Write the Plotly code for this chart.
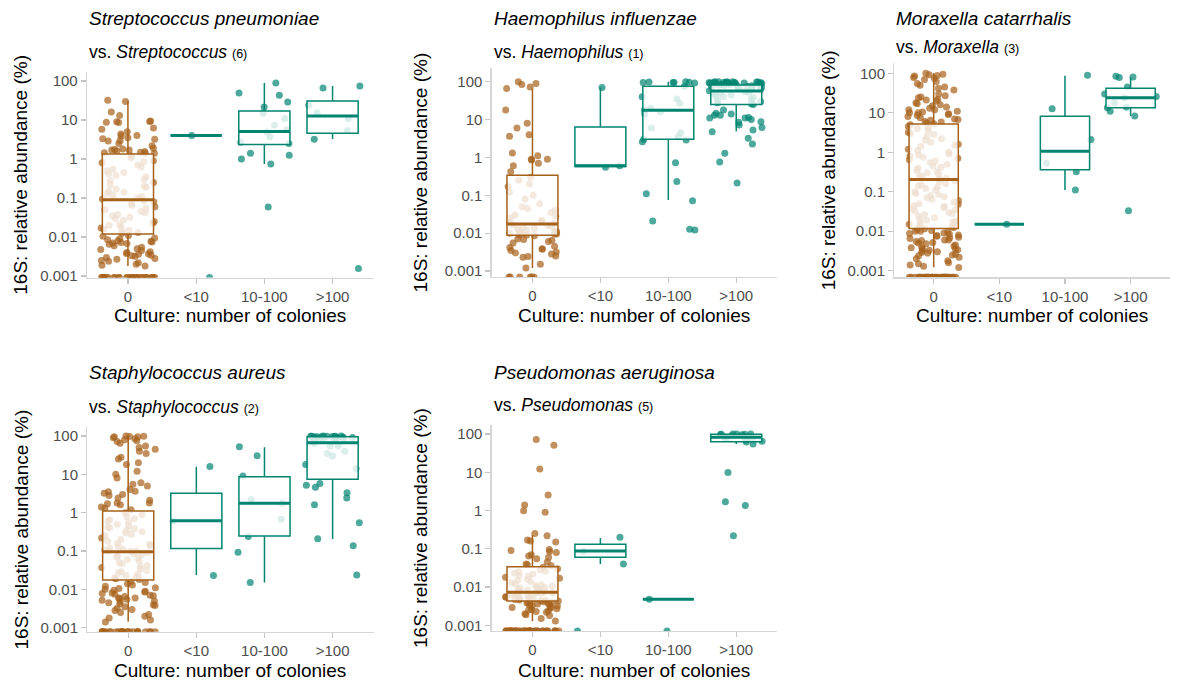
import plotly.graph_objects as go

# ---------------- data (16S relative abundance, %) ----------------
CATS = ["0", "<10", "10-100", ">100"]
TICK_VALS = [0.001, 0.01, 0.1, 1, 10, 100]
TICK_TEXT = ["0.001", "0.01", "0.1", "1", "10", "100"]

# Panel 1: Streptococcus pneumoniae
sp_c0 = [32, 30, 16, 13, 9.5, 9.2, 9, 8.8, 8.6, 6.2, 5.8, 5, 4.4, 4, 3.9, 3.5, 3.3, 3.2, 3, 2.9,
         2.5, 2.2, 1.9, 1.8, 1.75, 1.7, 1.7, 1.6, 1.55, 1.5, 1.45, 1.4, 1.4,
         1.2, 1.1, 0.9, 0.85, 0.8, 0.7, 0.62, 0.55, 0.5, 0.45, 0.42, 0.38, 0.35, 0.3, 0.28, 0.25,
         0.22, 0.2, 0.19, 0.17, 0.15, 0.14, 0.13, 0.12, 0.11, 0.1, 0.095, 0.085, 0.08, 0.072,
         0.065, 0.06, 0.055, 0.05, 0.045, 0.042, 0.038, 0.035, 0.032, 0.03, 0.027, 0.025, 0.023,
         0.021, 0.02, 0.018, 0.017, 0.016, 0.015, 0.014, 0.013, 0.0125,
         0.011, 0.0105, 0.0095, 0.009, 0.0085, 0.008, 0.0078, 0.0075, 0.0072, 0.007, 0.0068,
         0.0065, 0.006, 0.0055, 0.005, 0.0048, 0.0045, 0.0042, 0.004, 0.0038, 0.0037, 0.0036,
         0.0034, 0.0033, 0.0032, 0.003, 0.0028, 0.0027, 0.0025, 0.0024, 0.0022, 0.002, 0.0019, 0.0018]
sp_lt10 = [4]
sp_10_100 = [89, 49, 43, 29, 21.6, 15, 11, 7.5, 5.6, 4.9, 3.7, 2.7, 2.5, 1.4, 1.25, 1.0, 0.74, 0.059]
sp_gt100 = [75, 66, 24, 15.4, 11, 5.4, 3.2, 0.00155]
sp_zeros = [30, 1, 0, 0]
sp_q1 = [0.012, 4, 2.35, 4.6]
sp_med = [0.09, 4, 5.1, 12.7]
sp_q3 = [1.35, 4, 17, 30.7]
sp_lo = [0.0018, 4, 0.75, 3.25]
sp_hi = [31, 4, 89, 74.5]

# Panel 2: Haemophilus influenzae
hi_c0 = [100, 90, 85, 72, 66, 18, 8, 6, 4, 3.6, 1.3, 1.1, 0.9, 0.9, 0.85, 0.7, 0.6, 0.42,
         0.3, 0.25, 0.2, 0.17, 0.12, 0.1, 0.08, 0.06, 0.05, 0.045, 0.04, 0.035, 0.03, 0.028,
         0.025, 0.022, 0.02, 0.019, 0.018, 0.017, 0.016, 0.015, 0.014, 0.013, 0.013, 0.012,
         0.012, 0.011, 0.011, 0.0105, 0.01, 0.01, 0.0095, 0.0095, 0.009, 0.009,
         0.0085, 0.007, 0.0068, 0.0065, 0.006, 0.0055, 0.0045, 0.0042, 0.0038, 0.0038, 0.0035,
         0.0032, 0.003, 0.0028, 0.0025, 0.0024, 0.0023, 0.0015, 0.0012]
hi_lt10 = [70, 0.6, 0.55]
hi_10_100 = [100, 98, 97, 96, 95, 95, 92, 75, 40, 35, 27, 20, 18, 16, 14, 6, 4.5, 3.5, 3.0,
             2.9, 2.6, 0.72, 0.23, 0.11, 0.072, 0.021, 0.0127, 0.0122]
hi_gt100 = [100, 100, 99, 99, 98, 98, 97, 97, 96, 96, 95, 95, 94, 93, 93, 92, 91, 90, 90, 89,
            88, 87, 86, 85, 84, 83, 82, 80, 78, 76, 74, 72, 70, 68, 65, 62, 60, 58, 55, 53, 50,
            48, 45, 42, 40, 38, 35, 33, 30, 28, 26, 25, 17.8, 14.6, 14, 13, 13, 11.4, 11, 11, 10,
            8.8, 8.5, 7.2, 6.2, 5.3, 4.8, 3.2, 2.25, 1.29, 0.76, 0.21]
hi_zeros = [6, 0, 0, 0]
hi_q1 = [0.0088, 0.575, 3.0, 25]
hi_med = [0.0175, 0.6, 17.5, 57]
hi_q3 = [0.336, 6.4, 76, 82]
hi_lo = [0.0012, 0.55, 0.075, 4.9]
hi_hi = [66, 70, 100, 100]

# Panel 3: Moraxella catarrhalis
mc_c0 = [100, 95, 92, 88, 85, 78, 75, 70, 62, 55, 50, 45, 42, 38, 30, 27, 25, 24, 22, 21, 20,
         18, 17, 16, 15, 14, 13, 12, 12, 11, 10.5, 10, 10, 9.5, 9, 8.5, 8, 7.5, 7, 6.8, 6.5, 6,
         5.8, 5.5, 5.3,
         5, 4.5, 4.2, 4, 3.5, 3.2, 3, 2.8, 2.5, 2.2, 2, 1.8, 1.6, 1.5, 1.4, 1.2, 1.1, 1, 0.9,
         0.85, 0.8, 0.75, 0.7, 0.65, 0.6, 0.55, 0.5, 0.45, 0.42, 0.4, 0.35, 0.32, 0.3, 0.28,
         0.26, 0.24, 0.22, 0.21, 0.19, 0.18, 0.16, 0.15, 0.14, 0.13, 0.12, 0.11, 0.1, 0.09,
         0.085, 0.08, 0.075, 0.07, 0.065, 0.06, 0.055, 0.05, 0.048, 0.045, 0.042, 0.04, 0.037,
         0.035, 0.032, 0.03, 0.028, 0.026, 0.024, 0.022, 0.02, 0.019, 0.018, 0.017, 0.016,
         0.015, 0.014, 0.013, 0.0125,
         0.0115, 0.011, 0.0105, 0.01, 0.01, 0.0095, 0.009, 0.0088, 0.0085, 0.008, 0.0078,
         0.0075, 0.007, 0.0068, 0.0065, 0.006, 0.006, 0.0058, 0.0055, 0.0052, 0.005, 0.0048,
         0.0045, 0.0042, 0.004, 0.0038, 0.0036, 0.0035, 0.0034, 0.0033, 0.0032, 0.003, 0.0029,
         0.0028, 0.0026, 0.0025, 0.0024, 0.0022, 0.002, 0.0018, 0.0016, 0.0015, 0.0014,
         0.0013, 0.0012]
mc_lt10 = [0.015]
mc_10_100 = [89, 12.7, 2.1, 0.53, 0.32, 0.11]
mc_gt100 = [84, 81, 78, 45, 30, 26, 24, 18, 14, 13.5, 11, 8.3, 0.033]
mc_zeros = [35, 0, 0, 0]
mc_q1 = [0.0118, 0.015, 0.36, 13.5]
mc_med = [0.205, 0.015, 1.06, 24]
mc_q3 = [5.2, 0.015, 8.2, 42]
mc_lo = [0.00123, 0.015, 0.11, 8.3]
mc_hi = [100, 0.015, 87, 79]

# Panel 4: Staphylococcus aureus
sa_c0 = [100, 98, 97, 95, 95, 90, 85, 80, 75, 72, 65, 55, 50, 45, 40, 35, 28, 25, 20, 18, 12,
         10, 8, 6, 5.5, 5, 4, 3.6, 3.5, 3.2, 3, 2.8, 2.4, 2.1, 1.8, 1.8, 1.7, 1.6, 1.4, 1.3, 1.2,
         1.0, 0.9, 0.8, 0.7, 0.65, 0.6, 0.55, 0.5, 0.45, 0.42, 0.4, 0.38, 0.35, 0.32, 0.3, 0.27,
         0.25, 0.22, 0.2, 0.18, 0.16, 0.15, 0.14, 0.13, 0.12, 0.11, 0.105, 0.1, 0.1, 0.098,
         0.09, 0.085, 0.08, 0.075, 0.07, 0.065, 0.06, 0.055, 0.05, 0.046, 0.042, 0.04, 0.037,
         0.034, 0.031, 0.029, 0.027, 0.025, 0.023, 0.021, 0.02, 0.019, 0.018,
         0.016, 0.015, 0.014, 0.013, 0.012, 0.011, 0.0105, 0.01, 0.0095, 0.009, 0.0085, 0.008,
         0.0078, 0.0075, 0.007, 0.0068, 0.0065, 0.006, 0.006, 0.0058, 0.0055, 0.0052, 0.005,
         0.0048, 0.0045, 0.0042, 0.004, 0.0038, 0.0035, 0.0032, 0.003, 0.0028, 0.0025, 0.0022,
         0.002, 0.0018, 0.0016, 0.0014]
sa_lt10 = [16, 0.6, 0.023]
sa_10_100 = [52.6, 30.7, 9, 2.2, 1.75, 0.67, 0.24, 0.093, 0.015]
sa_gt100 = [100, 100, 99, 99, 98, 98, 97, 97, 96, 95, 95, 94, 93, 92, 90, 88, 86, 84, 82, 80,
            75, 70, 65, 55, 55, 40, 35, 30, 18, 14, 5.8, 5.2, 4.6, 3.3, 2.4, 1.6, 0.55, 0.21,
            0.137, 0.0236]
sa_zeros = [25, 0, 0, 0]
sa_q1 = [0.0175, 0.117, 0.245, 7.4]
sa_med = [0.096, 0.62, 1.75, 67]
sa_q3 = [1.1, 3.2, 8.7, 96]
sa_lo = [0.00144, 0.0237, 0.0152, 0.206]
sa_hi = [100, 15.8, 50.6, 100]

# Panel 5: Pseudomonas aeruginosa
pa_c0 = [72, 51, 12.2, 2.55, 1.4, 0.99, 0.9, 0.25, 0.22, 0.17, 0.16, 0.15, 0.096, 0.09, 0.085,
         0.08, 0.07, 0.065, 0.06, 0.055, 0.045, 0.04, 0.038, 0.036,
         0.033, 0.03, 0.028, 0.026, 0.025, 0.023, 0.022, 0.02, 0.019, 0.018, 0.017, 0.016,
         0.015, 0.014, 0.013, 0.012, 0.0115, 0.011, 0.0105, 0.01, 0.0098, 0.0095, 0.009,
         0.0088, 0.0085, 0.0082, 0.008, 0.0078, 0.0075, 0.0073, 0.0071, 0.007, 0.0068, 0.0066,
         0.0064, 0.0062, 0.006, 0.0058, 0.0056, 0.0054, 0.0052, 0.005, 0.0049, 0.0047, 0.0046,
         0.0045, 0.0044, 0.0043,
         0.0041, 0.004, 0.0039, 0.0038, 0.0037, 0.0036, 0.0035, 0.0034, 0.0033, 0.0032, 0.003,
         0.0029, 0.0028, 0.0027, 0.0026, 0.0025, 0.0024, 0.0023, 0.0022, 0.002, 0.0019,
         0.0018, 0.0015, 0.0013]
pa_lt10 = [0.2, 0.085, 0.04]
pa_10_100 = [0.0048]
pa_gt100 = [100, 100, 100, 99, 98, 97, 95, 90, 85, 82, 80, 75, 70, 65, 62, 55, 9.9, 1.7, 1.35, 0.22]
pa_zeros = [40, 1, 1, 0]
pa_q1 = [0.0043, 0.06, 0.0048, 63]
pa_med = [0.0073, 0.088, 0.0048, 82]
pa_q3 = [0.034, 0.131, 0.0048, 98]
pa_lo = [0.0013, 0.04, 0.0048, 55]
pa_hi = [0.23, 0.19, 0.0048, 100]

TITLES = ["Streptococcus pneumoniae", "Haemophilus influenzae", "Moraxella catarrhalis",
          "Staphylococcus aureus", "Pseudomonas aeruginosa"]
GENERA = ["Streptococcus", "Haemophilus", "Moraxella", "Staphylococcus", "Pseudomonas"]
RANKS = ["(6)", "(1)", "(3)", "(2)", "(5)"]

# ---------------- styling / layout ----------------
W, H = 1177, 682
FONT = "Liberation Sans, Arial, sans-serif"
BROWN = "#A6611A"
TEAL = "#018571"
BROWN_PT = "rgba(166,97,26,0.7)"
TEAL_PT = "rgba(1,133,113,0.7)"
AXIS_GREY = "#D6D6D6"
TICK_GREY = "#C4C4C4"
LABEL_GREY = "#4D4D4D"

# plot-area pixel boxes: (left, right, top, bottom), y range (log10), title/sub y, ytitle x
GEOM = [
    dict(box=(87, 373.5, 72, 277.5), yr=(-3.038, 2.231), ty=18.5, sy=52, ytx=21, xty=315),
    dict(box=(491.7, 777, 68, 277), yr=(-3.158, 2.362), ty=18.5, sy=52, ytx=420, xty=315),
    dict(box=(894.3, 1170, 63.3, 277.3), yr=(-3.167, 2.253), ty=18.5, sy=47, ytx=828, xty=315),
    dict(box=(87.3, 373.5, 427.3, 631.7), yr=(-3.104, 2.227), ty=372, sy=407, ytx=21, xty=670),
    dict(box=(491.7, 777, 425, 631), yr=(-3.149, 2.235), ty=372, sy=405, ytx=420, xty=670),
]

PANEL_DATA = [
    ([sp_c0, sp_lt10, sp_10_100, sp_gt100], sp_zeros, sp_q1, sp_med, sp_q3, sp_lo, sp_hi),
    ([hi_c0, hi_lt10, hi_10_100, hi_gt100], hi_zeros, hi_q1, hi_med, hi_q3, hi_lo, hi_hi),
    ([mc_c0, mc_lt10, mc_10_100, mc_gt100], mc_zeros, mc_q1, mc_med, mc_q3, mc_lo, mc_hi),
    ([sa_c0, sa_lt10, sa_10_100, sa_gt100], sa_zeros, sa_q1, sa_med, sa_q3, sa_lo, sa_hi),
    ([pa_c0, pa_lt10, pa_10_100, pa_gt100], pa_zeros, pa_q1, pa_med, pa_q3, pa_lo, pa_hi),
]

GOLD = 0.6180339887498949
ROOT2 = 1.4142135623730951
JITTER = 0.4   # geom_jitter default half-width (fraction of category spacing)
BOXW = 0.75


def jitter(n, phase):
    # deterministic, evenly spread horizontal offsets (quadratic Weyl sequence)
    return [((phase + k * GOLD + 0.5 * k * k * ROOT2) % 1.0 - 0.5) * 2 * JITTER
            for k in range(n)]


def fx(px):
    return px / W


def fy(py):
    return 1 - py / H


fig = go.Figure()
layout = dict(
    width=W, height=H, margin=dict(l=0, r=0, t=0, b=0, autoexpand=False),
    paper_bgcolor="white", plot_bgcolor="white", showlegend=False,
    font=dict(family=FONT, color="black"), boxmode="overlay", annotations=[],
)

for p, (geom, pdata) in enumerate(zip(GEOM, PANEL_DATA)):
    groups, zeros, q1, med, q3, lo, hi = pdata
    i = p + 1
    j = p + 6
    L, R, T, B = geom["box"]
    ymin, ymax = geom["yr"]
    xa, ya = f"x{i}", f"y{i}"
    xo, yo = f"x{j}", f"y{j}"

    # jittered points (below the boxes)
    for c, vals in enumerate(groups):
        col = BROWN_PT if c == 0 else TEAL_PT
        nz = zeros[c]
        offs = jitter(len(vals) + nz, 0.13 + 0.29 * c + 0.11 * p)
        xs = [c + o for o in offs[:len(vals)]]
        fig.add_trace(go.Scatter(
            x=xs, y=vals, mode="markers", xaxis=xa, yaxis=ya, hoverinfo="skip",
            marker=dict(size=7, color=col, line=dict(width=0)), cliponaxis=True))
        if nz:
            # zero abundance is drawn at the bottom edge of the log axis (-Inf)
            fig.add_trace(go.Scatter(
                x=[c + o for o in offs[len(vals):]], y=[10 ** ymin] * nz, mode="markers",
                xaxis=xa, yaxis=ya, hoverinfo="skip", cliponaxis=True,
                marker=dict(size=7, color=col, line=dict(width=0))))

    # boxes drawn on an overlaying subplot so they sit above the points
    for c in range(4):
        col = BROWN if c == 0 else TEAL
        fig.add_trace(go.Box(
            x=[c], q1=[q1[c]], median=[med[c]], q3=[q3[c]],
            lowerfence=[lo[c]], upperfence=[hi[c]], width=BOXW, whiskerwidth=0,
            fillcolor="rgba(255,255,255,0.8)", line=dict(color=col, width=1.5),
            boxpoints=False, xaxis=xo, yaxis=yo, hoverinfo="skip"))
        # thicker median bar (ggplot fatten)
        fig.add_trace(go.Box(
            x=[c], q1=[med[c]], median=[med[c]], q3=[med[c]],
            lowerfence=[med[c]], upperfence=[med[c]], width=BOXW, whiskerwidth=0,
            fillcolor="rgba(0,0,0,0)", line=dict(color=col, width=3),
            boxpoints=False, xaxis=xo, yaxis=yo, hoverinfo="skip"))

    xdom = [fx(L), fx(R)]
    ydom = [fy(B), fy(T)]
    layout[f"xaxis{i}"] = dict(
        domain=xdom, range=[-0.6, 3.6], anchor=ya, tickmode="array",
        tickvals=[0, 1, 2, 3], ticktext=CATS, showline=True, linecolor=AXIS_GREY,
        linewidth=1.3, ticks="outside", ticklen=5, tickwidth=1.2, tickcolor=TICK_GREY,
        tickfont=dict(family=FONT, size=15, color=LABEL_GREY), showgrid=False,
        zeroline=False, fixedrange=True, automargin=False)
    layout[f"yaxis{i}"] = dict(
        domain=ydom, type="log", range=[ymin, ymax], anchor=xa, tickmode="array",
        tickvals=TICK_VALS, ticktext=TICK_TEXT, showline=True, linecolor=AXIS_GREY,
        linewidth=1.3, ticks="outside", ticklen=5, tickwidth=1.2, tickcolor=TICK_GREY,
        tickfont=dict(family=FONT, size=15, color=LABEL_GREY), showgrid=False,
        zeroline=False, fixedrange=True, automargin=False)
    layout[f"xaxis{j}"] = dict(
        overlaying=xa, range=[-0.6, 3.6], anchor=yo, visible=False, fixedrange=True,
        automargin=False)
    layout[f"yaxis{j}"] = dict(
        overlaying=ya, type="log", range=[ymin, ymax], anchor=xo, visible=False,
        fixedrange=True, automargin=False)

    ann = layout["annotations"]
    ann.append(dict(
        text=f"<i>{TITLES[p]}</i>", x=fx(L), y=fy(geom["ty"]), xref="paper", yref="paper",
        xanchor="left", yanchor="middle", showarrow=False,
        font=dict(family=FONT, size=19, color="black")))
    ann.append(dict(
        text=f"vs. <i>{GENERA[p]}</i> <span style='font-size:12.5px'>{RANKS[p]}</span>",
        x=fx(L), y=fy(geom["sy"]), xref="paper", yref="paper",
        xanchor="left", yanchor="middle", showarrow=False,
        font=dict(family=FONT, size=17.5, color="black")))
    ann.append(dict(
        text="Culture: number of colonies", x=fx((L + R) / 2), y=fy(geom["xty"]),
        xref="paper", yref="paper", xanchor="center", yanchor="middle", showarrow=False,
        font=dict(family=FONT, size=19, color="black")))
    ann.append(dict(
        text="16S: relative abundance (%)", x=fx(geom["ytx"]), y=fy((T + B) / 2),
        xref="paper", yref="paper", xanchor="center", yanchor="middle", showarrow=False,
        textangle=-90, font=dict(family=FONT, size=19, color="black")))

fig.update_layout(**layout)
fig.write_html(
    "out.html",
    config={"displayModeBar": False, "staticPlot": True},
    post_script="document.body.style.margin='0px';document.body.style.overflow='hidden';")
